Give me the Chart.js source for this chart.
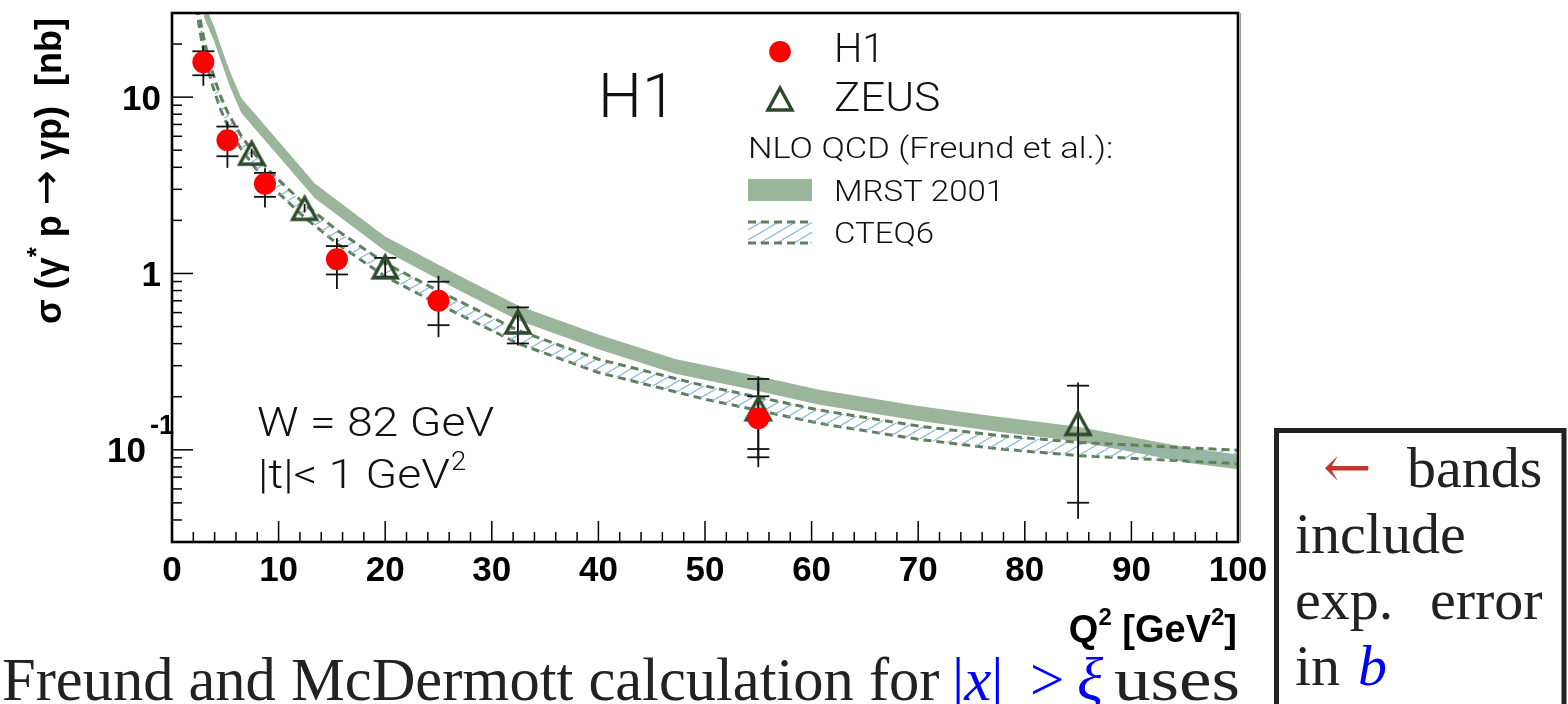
<!DOCTYPE html>
<html><head><meta charset="utf-8">
<script src="https://cdn.jsdelivr.net/npm/chart.js@4.4.1/dist/chart.umd.min.js"></script>
<style>html,body{margin:0;padding:0;background:#fff;}canvas{display:block}</style>
</head><body>
<canvas id="c" width="1568" height="704"></canvas>
<script>
// ---------------- data ----------------
const h1Q2     = [2.94, 5.2, 8.72, 15.47, 25.0, 55.0];
const h1Sigma  = [15.8, 5.69, 3.23, 1.205, 0.70, 0.151];
const h1StatHi = [18.2, 6.81, 3.72, 1.43, 0.898, 0.201];
const h1StatLo = [13.3, 4.62, 2.72, 0.987, 0.509, 0.101];
const h1TotHi  = [19.6, 7.27, 3.95, 1.585, 0.971, 0.24];
const h1TotLo  = [11.6, 3.97, 2.37, 0.817, 0.435, 0.088];

const zeusQ2     = [7.47, 12.44, 20.0, 32.45, 55.0, 85.0];
const zeusSigma  = [4.81, 2.34, 1.09, 0.531, 0.171, 0.141];
const zeusStatHi = [null, null, 1.225, 0.642, 0.252, 0.231];
const zeusStatLo = [null, null, 0.958, 0.401, 0.0907, 0.0501];
const zeusTotHi  = [5.1, 2.48, 1.24, 0.655, 0.26, 0.241];
const zeusTotLo  = [4.55, 2.22, 0.95, 0.39, 0.0797, 0.0407];

const mrstQ2 = [3, 4, 4.65, 5.43, 6.5, 13.4, 20, 27, 32.5, 40, 47.2, 55, 60.6, 70, 77.5, 85, 95.4, 100];
const mrstHi = [34.6, 24.75, 18.94, 14.0, 9.88, 3.24, 1.62, 0.968, 0.657, 0.451, 0.3277, 0.2614, 0.2195, 0.1773, 0.1538, 0.1351, 0.1023, 0.0941];
const mrstLo = [28.5, 20.4, 15.6, 11.5, 8.14, 2.67, 1.34, 0.797, 0.541, 0.3715, 0.270, 0.2153, 0.1808, 0.146, 0.1267, 0.1113, 0.0843, 0.0775];

const cteqQ2 = [2.3, 2.5, 2.78, 3.09, 3.71, 4.5, 5.28, 6.53, 7.78, 9.34, 10.6, 12.4, 15.5, 20, 25, 32.5, 40, 50, 60.8, 70, 77.5, 85, 100];
const cteqHi = [38.5, 31.3, 24.8, 20.2, 14.42, 10.30, 8.06, 5.98, 4.74, 3.71, 3.135, 2.485, 1.753, 1.144, 0.796, 0.4749, 0.3264, 0.2302, 0.1677, 0.1364, 0.1206, 0.1102, 0.0994];
const cteqLo = [32.4, 26.3, 20.9, 16.96, 12.13, 8.66, 6.78, 5.03, 3.99, 3.12, 2.64, 2.09, 1.474, 0.962, 0.670, 0.3995, 0.2746, 0.1936, 0.1410, 0.1147, 0.1014, 0.0927, 0.0835];

const xTickVals = [0,10,20,30,40,50,60,70,80,90,100];
const xTickLabels = ['0','10','20','30','40','50','60','70','80','90','100'];
const yTickVals = [10, 1, 0.1];
const yTickBase = ['10', '1', '10'];
const yTickExp  = ['', '', '-1'];

// ---------------- styles ----------------
const RED = '#ff0000', ZEUSC = '#2e4a2e', MRSTC = '#9bb59b', DASHC = '#5f7f5f', HATCHC = '#86b8dc';
const canvas = document.getElementById('c');
const mainCtx = canvas.getContext('2d');

function makeHatch() {
  const W = 17, H = 10;
  const t = document.createElement('canvas'); t.width = W; t.height = H;
  const g = t.getContext('2d');
  g.strokeStyle = HATCHC; g.lineWidth = 1.2;
  for (const off of [-W, 0, W]) {
    g.beginPath(); g.moveTo(off, H); g.lineTo(off + W, 0); g.stroke();
  }
  return mainCtx.createPattern(t, 'repeat');
}
const hatch = makeHatch();

function makeTriangle() {
  const t = document.createElement('canvas'); t.width = 32; t.height = 30;
  const g = t.getContext('2d');
  g.strokeStyle = ZEUSC; g.lineWidth = 3.4; g.lineJoin = 'miter';
  g.beginPath(); g.moveTo(16, 4); g.lineTo(28, 26); g.lineTo(4, 26); g.closePath(); g.stroke();
  return t;
}
const triImg = makeTriangle();

const pts = (xs, ys) => xs.map((x, i) => ({x: x, y: ys[i]}));

// ---------------- decoration plugin ----------------
function pieces(ctx, list, x, y, align) {
  let w = 0;
  for (const p of list) { ctx.font = p[1]; w += ctx.measureText(p[0]).width; }
  let cx = align === 'right' ? x - w : (align === 'center' ? x - w / 2 : x);
  ctx.textAlign = 'left'; ctx.textBaseline = 'alphabetic';
  for (const p of list) {
    ctx.font = p[1]; ctx.fillStyle = p[2];
    ctx.fillText(p[0], cx, y + (p[3] || 0));
    cx += ctx.measureText(p[0]).width;
  }
}
const thin = s => `300 ${s}px Roboto, "Liberation Sans", sans-serif`;
const bold = s => `bold ${s}px "Liberation Sans", Arial, sans-serif`;
const serif = s => `${s}px "Liberation Serif", "DejaVu Serif", serif`;
const serifI = s => `italic ${s}px "Liberation Serif", "DejaVu Serif", serif`;

function thinText(ctx, s, x, y, size, sx, color) {
  ctx.save();
  ctx.translate(x, y); ctx.scale(sx, 1);
  ctx.font = thin(size); ctx.fillStyle = color || '#111';
  ctx.textAlign = 'left'; ctx.textBaseline = 'alphabetic';
  ctx.fillText(s, 0, 0);
  const w = ctx.measureText(s).width * sx;
  ctx.restore();
  return w;
}
function scaledText(ctx, s, x, y, font, sx, color) {
  ctx.save();
  ctx.translate(x, y); ctx.scale(sx, 1);
  ctx.font = font; ctx.fillStyle = color; ctx.textAlign = 'left'; ctx.textBaseline = 'alphabetic';
  ctx.fillText(s, 0, 0);
  ctx.restore();
}

function drawErrors(chart) {
  const ctx = chart.ctx, xs = chart.scales.x, ys = chart.scales.y;
  ctx.save();
  ctx.strokeStyle = '#111'; ctx.lineWidth = 1.8;
  const sets = [[h1Q2, h1StatHi, h1StatLo, h1TotHi, h1TotLo], [zeusQ2, zeusStatHi, zeusStatLo, zeusTotHi, zeusTotLo]];
  for (const [q, sh, sl, th, tl] of sets) {
    for (let i = 0; i < q.length; i++) {
      const px = xs.getPixelForValue(q[i]);
      ctx.beginPath();
      ctx.moveTo(px, ys.getPixelForValue(th[i])); ctx.lineTo(px, ys.getPixelForValue(tl[i]));
      ctx.stroke();
      for (const v of [sh[i], sl[i]]) {
        if (v == null) continue;
        const py = ys.getPixelForValue(v);
        ctx.beginPath(); ctx.moveTo(px - 11, py); ctx.lineTo(px + 11, py); ctx.stroke();
      }
    }
  }
  ctx.restore();
}

const decor = {
  id: 'decor',
  beforeDatasetDraw(chart, args) { if (args.index === 1) drawErrors(chart); },
  afterDraw(chart) {
    const ctx = chart.ctx, a = chart.chartArea, xs = chart.scales.x, ys = chart.scales.y;
    ctx.save();
    // frame
    ctx.strokeStyle = '#000'; ctx.lineWidth = 2.6;
    ctx.strokeRect(a.left, a.top, a.right - a.left, a.bottom - a.top);
    ctx.strokeStyle = '#999'; ctx.lineWidth = 1;
    ctx.beginPath(); ctx.moveTo(a.right + 2.5, a.top); ctx.lineTo(a.right + 2.5, a.bottom); ctx.stroke();
    // ticks
    ctx.strokeStyle = '#000'; ctx.lineWidth = 1.5;
    for (let v = 0; v <= 100; v += 2) {
      const px = xs.getPixelForValue(v), len = (v % 10 === 0) ? 21 : 10;
      ctx.beginPath(); ctx.moveTo(px, a.bottom); ctx.lineTo(px, a.bottom - len); ctx.stroke();
    }
    for (let e = -2; e <= 1; e++) {
      for (let k = 1; k <= 9; k++) {
        const v = k * Math.pow(10, e);
        if (v <= 0.0301 || v >= 29.9) continue;
        const py = ys.getPixelForValue(v), len = (k === 1) ? 21 : 10;
        ctx.beginPath(); ctx.moveTo(a.left, py); ctx.lineTo(a.left + len, py); ctx.stroke();
      }
    }
    // tick labels
    ctx.fillStyle = '#000';
    ctx.font = bold(35); ctx.textAlign = 'center'; ctx.textBaseline = 'alphabetic';
    xTickVals.forEach((v, i) => ctx.fillText(xTickLabels[i], xs.getPixelForValue(v), 581));
    yTickVals.forEach((v, i) => {
      const py = ys.getPixelForValue(v);
      ctx.font = bold(35); ctx.fillStyle = '#000'; ctx.textBaseline = 'alphabetic';
      if (yTickExp[i]) {
        ctx.textAlign = 'right'; ctx.fillText(yTickBase[i], 146, py + 12.5);
        ctx.font = bold(27); ctx.textAlign = 'left'; ctx.fillText(yTickExp[i], 150, py - 16);
      } else {
        ctx.textAlign = 'right'; ctx.fillText(yTickBase[i], 161, py + 12.5);
      }
    });
    // axis titles
    ctx.save();
    ctx.translate(61, 18); ctx.rotate(-Math.PI / 2);
    pieces(ctx, [['σ (γ', bold(36), '#000', 0], ['*', bold(26), '#000', -16], [' p ', bold(36), '#000', 0],
                 ['→', '42px "DejaVu Sans", sans-serif', '#000', -1], [' γp)  [nb]', bold(36), '#000', 0]], 0, 0, 'right');
    ctx.restore();
    pieces(ctx, [['Q', bold(38), '#000', 0], ['2', bold(24), '#000', -17], [' [GeV', bold(38), '#000', 0], ['2', bold(24), '#000', -17], [']', bold(38), '#000', 0]], 1237, 642, 'right');
    // in-plot texts
    thinText(ctx, 'H1', 598, 116.7, 62, 1.0);
    thinText(ctx, 'W = 82 GeV', 257, 436, 40, 1.16);
    const wt = thinText(ctx, '|t|< 1 GeV', 258, 488, 40, 1.16);
    thinText(ctx, '2', 258 + wt + 1, 470, 25, 1.1);
    // legend
    ctx.fillStyle = RED; ctx.beginPath(); ctx.arc(780, 51.7, 10.8, 0, Math.PI * 2); ctx.fill();
    ctx.drawImage(triImg, 780 - 16, 99 - 15);
    thinText(ctx, 'H1', 834, 61.5, 40, 1.0);
    thinText(ctx, 'ZEUS', 834, 111, 40, 1.1);
    thinText(ctx, 'NLO QCD (Freund et al.):', 748, 158, 30, 1.15);
    ctx.fillStyle = MRSTC; ctx.fillRect(748, 179, 64, 22);
    ctx.fillStyle = hatch; ctx.fillRect(748, 222, 64, 21);
    ctx.strokeStyle = DASHC; ctx.lineWidth = 3; ctx.setLineDash([8, 5]);
    ctx.beginPath(); ctx.moveTo(748, 222); ctx.lineTo(812, 222); ctx.moveTo(748, 243); ctx.lineTo(812, 243); ctx.stroke();
    ctx.setLineDash([]);
    thinText(ctx, 'MRST 2001', 834, 200.5, 30, 1.1);
    thinText(ctx, 'CTEQ6', 834, 243, 30, 1.1);
    // right box
    ctx.strokeStyle = '#222'; ctx.lineWidth = 5;
    ctx.strokeRect(1276.5, 430.5, 287.5, 300);
    pieces(ctx, [['←', '300 58px "DejaVu Serif", serif', '#c0392b', 0]], 1323, 487, 'left');
    pieces(ctx, [['bands', serif(58), '#222', 0]], 1407, 487, 'left');
    pieces(ctx, [['include', serif(58), '#222', 0]], 1295, 553, 'left');
    pieces(ctx, [['exp.', serif(58), '#222', 0]], 1295, 619, 'left');
    pieces(ctx, [['error', serif(58), '#222', 0]], 1430, 619, 'left');
    pieces(ctx, [['in', serif(58), '#222', 0]], 1295, 685, 'left');
    pieces(ctx, [['b', serifI(58), '#0000ff', 0]], 1358, 685, 'left');
    // bottom sentence
    pieces(ctx, [['Freund and McDermott calculation for', serif(60.5), '#222', 0]], 2, 700, 'left');
    pieces(ctx, [['|', serif(61), '#0000ff', 0], ['x', serifI(61), '#0000ff', 0], ['|', serif(61), '#0000ff', 0]], 952, 700, 'left');
    pieces(ctx, [['>', serif(61), '#0000ff', 0]], 1030, 700, 'left');
    pieces(ctx, [['ξ', serifI(61), '#0000ff', 0]], 1077, 700, 'left');
    scaledText(ctx, 'uses', 1114, 700, serif(61), 1.2, '#222');
    ctx.restore();
  }
};

// ---------------- chart ----------------
new Chart(canvas, {
  type: 'scatter',
  data: {
    datasets: [
      { label: 'H1', data: pts(h1Q2, h1Sigma), pointStyle: 'circle', pointRadius: 11,
        backgroundColor: RED, borderWidth: 0, borderColor: RED, order: 0 },
      { label: 'ZEUS', data: pts(zeusQ2, zeusSigma), pointStyle: triImg, pointRadius: 12, order: 1 },
      { label: 'CTEQ6 hi', data: pts(cteqQ2, cteqHi), showLine: true, pointRadius: 0, tension: 0,
        borderColor: DASHC, borderWidth: 3, borderDash: [8, 5], backgroundColor: hatch, fill: '+1', order: 2, clip: 0 },
      { label: 'CTEQ6 lo', data: pts(cteqQ2, cteqLo), showLine: true, pointRadius: 0, tension: 0,
        borderColor: DASHC, borderWidth: 3, borderDash: [8, 5], fill: false, order: 3, clip: 0 },
      { label: 'MRST hi', data: pts(mrstQ2, mrstHi), showLine: true, pointRadius: 0, tension: 0,
        borderColor: 'rgba(0,0,0,0)', borderWidth: 0, backgroundColor: MRSTC, fill: '+1', order: 4, clip: 0 },
      { label: 'MRST lo', data: pts(mrstQ2, mrstLo), showLine: true, pointRadius: 0, tension: 0,
        borderColor: 'rgba(0,0,0,0)', borderWidth: 0, fill: false, order: 5, clip: 0 }
    ]
  },
  options: {
    responsive: false, animation: false, devicePixelRatio: 1, events: [],
    layout: { padding: { left: 172, right: 330, top: 9, bottom: 162 } },
    plugins: { legend: { display: false }, tooltip: { enabled: false } },
    scales: {
      x: { type: 'linear', min: 0, max: 100, display: false },
      y: { type: 'logarithmic', min: 0.03, max: 30, display: false }
    }
  },
  plugins: [decor]
});
</script>
</body></html>
